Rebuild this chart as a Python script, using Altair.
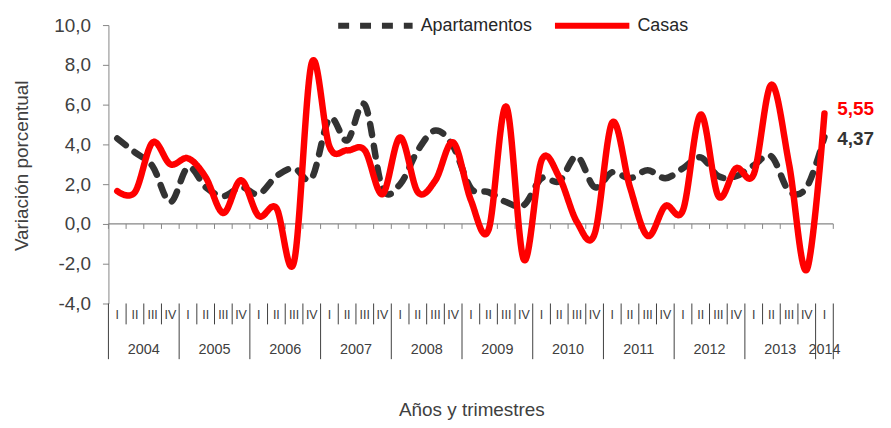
import altair as alt
import pandas as pd

# ---------------- data ----------------
quarter_idx = list(range(41))
quarter_labels = ["I", "II", "III", "IV"] * 10 + ["I"]
year_of_quarter = [str(2004 + i // 4) for i in range(41)]

apartamentos = [4.3, 3.6, 2.9, 1.1, 2.85, 1.85, 1.4, 1.85, 1.5, 2.4,
                2.8, 2.3, 5.3, 4.2, 6.0, 1.8, 2.0, 3.7, 4.7, 3.9,
                1.8, 1.6, 1.1, 0.95, 2.3, 2.15, 3.4, 1.85, 2.6, 2.3,
                2.7, 2.3, 2.8, 3.35, 2.4, 2.4, 2.95, 3.4, 1.65, 1.85,
                4.37]
casas = [1.65, 1.6, 4.1, 3.0, 3.3, 2.35, 0.55, 2.2, 0.4, 0.8,
         -1.9, 8.1, 3.9, 3.7, 3.7, 1.5, 4.35, 1.6, 2.2, 4.1,
         1.2, -0.3, 5.9, -1.8, 3.2, 2.35, 0.1, -0.5, 5.1, 1.85,
         -0.6, 0.9, 0.7, 5.5, 1.4, 2.8, 2.5, 7.0, 3.0, -2.3,
         5.55]
series = ["Apartamentos", "Casas"]
series_colors = ["#333333", "#ff0000"]
y_ticks = [-4, -2, 0, 2, 4, 6, 8, 10]

# ---------------- tables ----------------
rows = []
for i in quarter_idx:
    rows.append({"idx": i, "serie": "Apartamentos", "valor": apartamentos[i]})
    rows.append({"idx": i, "serie": "Casas", "valor": casas[i]})
df = pd.DataFrame(rows)

qdf = pd.DataFrame({"idx": quarter_idx, "q": quarter_labels, "year": year_of_quarter})
ydf = qdf.groupby("year", as_index=False)["idx"].mean()

bounds = [i - 0.5 for i in range(42)]
bdf = pd.DataFrame({"b": bounds,
                    "isyear": [((i % 4) == 0) or i == 41 for i in range(42)],
                    "t0": [0.0] * 42, "t1": [-0.25] * 42})

W, H = 729, 280
FONT = "Liberation Sans"
xscale = alt.Scale(domain=[-0.5, 40.5], nice=False, zero=False)
yscale = alt.Scale(domain=[-4, 10], nice=False, zero=False)

XAXIS = alt.Axis(
    title="Años y trimestres", domain=False, ticks=False, labels=False, grid=False,
    titleFont=FONT, titleFontSize=19, titleFontWeight="normal", titleColor="#404040",
    titleX=365, titleY=113, titleAlign="center", titleBaseline="alphabetic")
YAXIS = alt.Axis(
    values=y_ticks,
    labelExpr="replace(replace(format(datum.value, '.1f'), '.', ','), '\u2212', '-')",
    labelOverlap=False, labelBound=False,
    grid=False, domainColor="#868686", tickColor="#868686", tickSize=6,
    labelPadding=12, labelFont=FONT, labelFontSize=19, labelColor="#404040",
    title="Variación porcentual", titleFont=FONT, titleFontSize=19,
    titleFontWeight="normal", titleColor="#404040",
    titleX=-81, titleY=141, titleAlign="center", titleBaseline="alphabetic")

leg = alt.Legend(title=None, orient="none", legendX=228, legendY=-40,
                 direction="horizontal", symbolType="stroke", symbolSize=5600,
                 symbolStrokeWidth=6, labelFontSize=18, labelFont=FONT,
                 labelColor="#262626", labelOffset=5, columnPadding=10)

color = alt.Color("serie:N", scale=alt.Scale(domain=series, range=series_colors), legend=leg)
dash = alt.StrokeDash("serie:N", scale=alt.Scale(domain=series, range=[[11, 11], [1, 0]]), legend=leg)

def X(field):
    return alt.X(field, scale=xscale, axis=XAXIS)

def Y(field):
    return alt.Y(field, scale=yscale, axis=YAXIS)

lines = alt.Chart(df).mark_line(
    interpolate="cardinal", strokeWidth=6.5, strokeCap="round", strokeJoin="round"
).encode(
    x=X("idx:Q"), y=Y("valor:Q"),
    color=color, strokeDash=dash, order="idx:Q",
)

zero = alt.Chart(pd.DataFrame({"z": [0]})).mark_rule(color="#868686", strokeWidth=1.2).encode(
    y=Y("z:Q")
)

zticks = alt.Chart(bdf).mark_rule(color="#868686", strokeWidth=1).encode(
    x=X("b:Q"), y=Y("t0:Q"), y2="t1:Q",
)

qsep = alt.Chart(bdf).transform_filter("!datum.isyear").mark_rule(color="#404040", strokeWidth=1).encode(
    x=X("b:Q"), y=alt.value(H), y2=alt.value(H + 21)
)
ysep = alt.Chart(bdf).transform_filter("datum.isyear").mark_rule(color="#404040", strokeWidth=1).encode(
    x=X("b:Q"), y=alt.value(H), y2=alt.value(H + 56)
)

qtext = alt.Chart(qdf).mark_text(font=FONT, fontSize=12.5, color="#404040", baseline="middle").encode(
    x=X("idx:Q"), y=alt.value(H + 12), text="q:N"
)
ytext = alt.Chart(ydf).mark_text(font=FONT, fontSize=14.5, color="#404040", baseline="middle").encode(
    x=X("idx:Q"), y=alt.value(H + 47), text="year:N"
)

def end_label(name, dy):
    return alt.Chart(df).transform_filter(
        f"datum.idx == 40 && datum.serie == '{name}'"
    ).transform_calculate(
        lab="replace(format(datum.valor, '.2f'), '.', ',')"
    ).mark_text(font=FONT, fontSize=19, fontWeight="bold", align="left",
                baseline="middle", dx=13, dy=dy).encode(
        x=X("idx:Q"), y=Y("valor:Q"),
        text="lab:N",
        color=alt.Color("serie:N", scale=alt.Scale(domain=series, range=series_colors), legend=None),
    )

chart = alt.layer(
    zero, zticks, qsep, ysep, qtext, ytext, lines,
    end_label("Casas", -5), end_label("Apartamentos", 2),
).properties(
    width=W, height=H,
    autosize=alt.AutoSizeParams(type="none"),
    padding={"left": 101, "top": 16, "right": 50, "bottom": 116},
).configure_view(stroke=None)

chart.save("out.html", embed_options={"renderer": "svg", "actions": False})
